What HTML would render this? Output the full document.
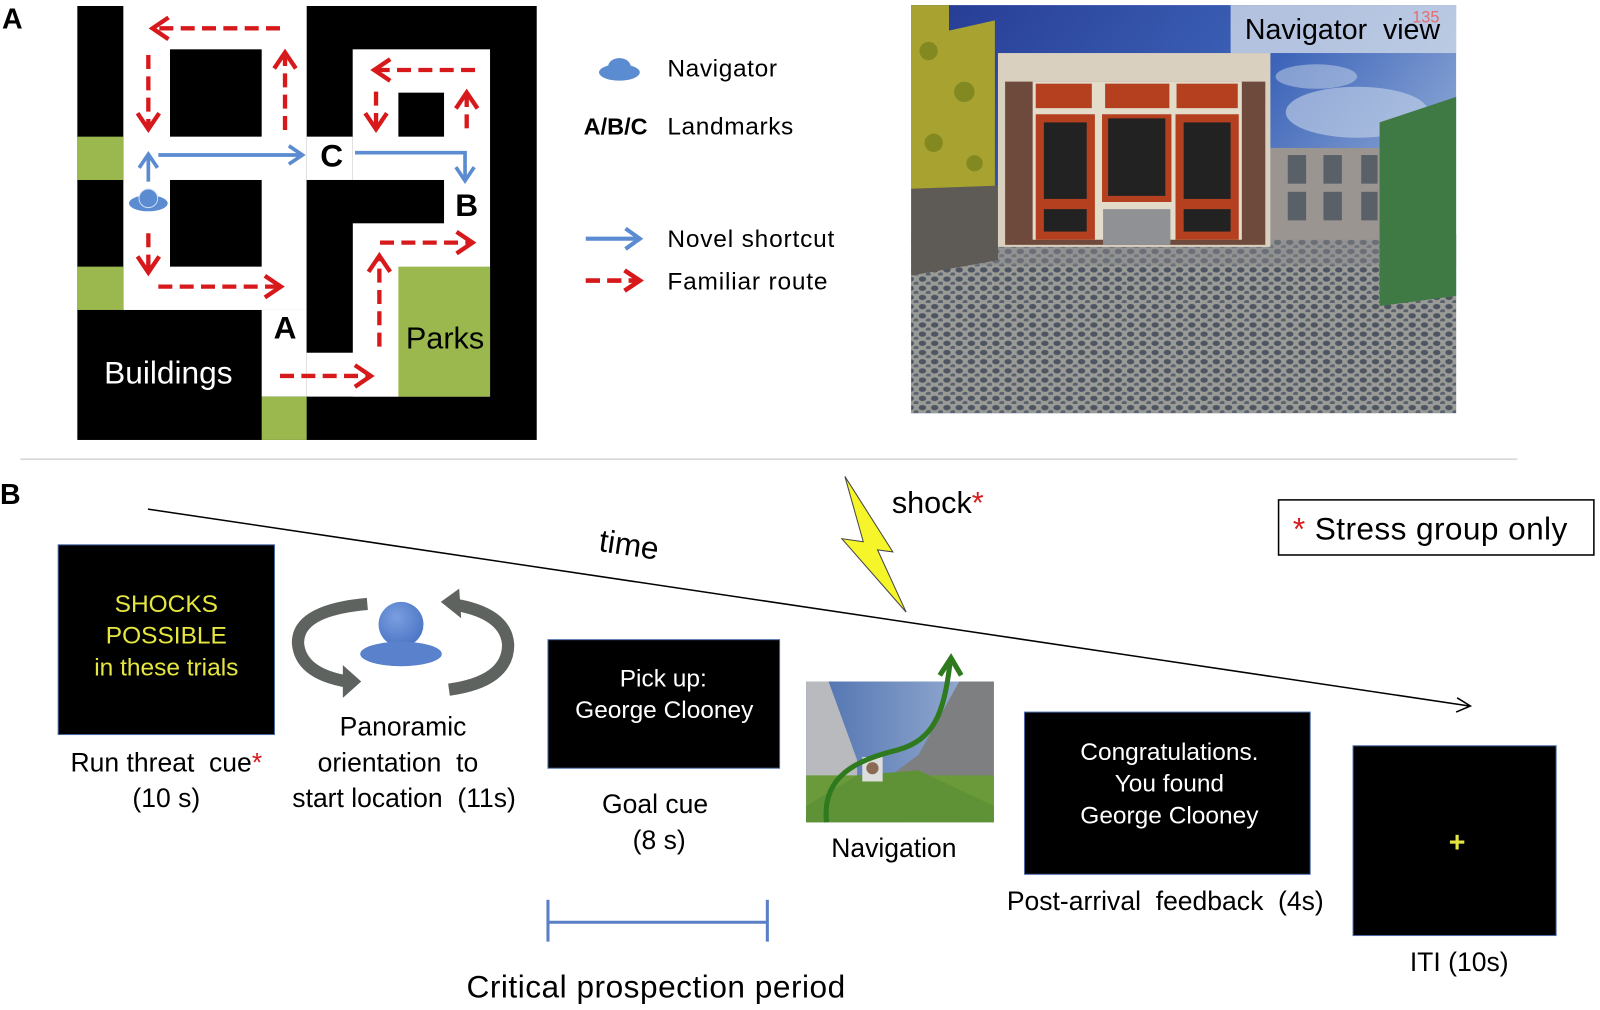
<!DOCTYPE html>
<html><head><meta charset="utf-8"><style>
html,body{margin:0;padding:0;background:#fff;}
svg{display:block;}
text{font-family:"Liberation Sans",Arial,sans-serif;white-space:pre;}
</style></head><body>
<svg width="1600" height="1010" viewBox="0 0 1568 990" preserveAspectRatio="none" xmlns="http://www.w3.org/2000/svg">
<defs>
<marker id="rh" markerWidth="6" markerHeight="6" refX="4" refY="3" orient="auto" markerUnits="strokeWidth"><path d="M0.5,0.5 L4.2,3 L0.5,5.5" fill="none" stroke="#d7191c" stroke-width="1"/></marker>
<marker id="bh" markerWidth="6" markerHeight="6" refX="4" refY="3" orient="auto" markerUnits="strokeWidth"><path d="M0.5,0.5 L4.2,3 L0.5,5.5" fill="none" stroke="#5b8bd0" stroke-width="1"/></marker>
<linearGradient id="sky" x1="0" y1="0" x2="1" y2="0.6"><stop offset="0" stop-color="#263a92"/><stop offset="0.55" stop-color="#3c63b8"/><stop offset="1" stop-color="#a8bfe0"/></linearGradient>
<pattern id="stones" width="12" height="9" patternUnits="userSpaceOnUse"><rect width="12" height="9" fill="#9a9a96"/><ellipse cx="4" cy="3.5" rx="3.6" ry="2.6" fill="#4d5562"/><ellipse cx="10" cy="8" rx="2.8" ry="2" fill="#5a626e"/></pattern>
<linearGradient id="nsky" x1="0" y1="0" x2="1" y2="0"><stop offset="0" stop-color="#4c6fae"/><stop offset="1" stop-color="#9fb4d6"/></linearGradient>
<radialGradient id="bl" cx="0.4" cy="0.35" r="0.7"><stop offset="0" stop-color="#7a9ee0"/><stop offset="1" stop-color="#4a74c4"/></radialGradient>
</defs>

<text x="2" y="28" font-size="28" font-weight="bold">A</text>

<g transform="translate(68.6,0) scale(0.3267)">
<rect x="22" y="18" width="1378" height="1302" fill="#000"/>
<g fill="#fff">
<rect x="160" y="18" width="550" height="912"/>
<rect x="575" y="930" width="135" height="260"/>
<rect x="710" y="1058" width="275" height="132"/>
<rect x="848" y="148" width="412" height="1042"/>
<rect x="710" y="410" width="138" height="130"/>
</g>
<g fill="#000">
<rect x="300" y="148" width="275" height="262"/>
<rect x="300" y="540" width="275" height="260"/>
<rect x="985" y="278" width="137" height="132"/>
<rect x="710" y="540" width="412" height="130"/>
<rect x="710" y="670" width="138" height="388"/>
</g>
<g fill="#9bb84f">
<rect x="22" y="410" width="138" height="130"/>
<rect x="22" y="800" width="138" height="130"/>
<rect x="985" y="800" width="275" height="390"/>
<rect x="575" y="1190" width="135" height="130"/>
</g>
<g stroke="#d7191c" stroke-width="13" fill="none" stroke-dasharray="42,22" marker-end="url(#rh)">
<path d="M630,85 L250,85"/>
<path d="M235,165 L235,385"/>
<path d="M645,390 L645,160"/>
<path d="M1215,210 L915,210"/>
<path d="M918,275 L918,385"/>
<path d="M1190,385 L1190,280"/>
<path d="M235,700 L235,815"/>
<path d="M265,860 L630,860"/>
<path d="M630,1128 L900,1128"/>
<path d="M928,1040 L928,770"/>
<path d="M930,728 L1205,728"/>
</g>
<g stroke="#5b8bd0" stroke-width="11" fill="none" marker-end="url(#bh)">
<path d="M235,545 L235,465"/>
<path d="M265,465 L695,465"/>
<path d="M855,458 L1185,458 L1185,540"/>
</g>
<ellipse cx="235" cy="610" rx="58" ry="24" fill="#5b8bd0"/>
<circle cx="235" cy="595" r="28" fill="#5b8bd0" stroke="#cfe0f5" stroke-width="3"/>
<text x="785" y="500" font-size="95" font-weight="bold" text-anchor="middle">C</text>
<text x="1190" y="648" font-size="95" font-weight="bold" text-anchor="middle">B</text>
<text x="645" y="1015" font-size="95" font-weight="bold" text-anchor="middle">A</text>
<text x="295" y="1150" font-size="95" fill="#fff" text-anchor="middle">Buildings</text>
<text x="1125" y="1045" font-size="92" fill="#000" text-anchor="middle">Parks</text>
</g>

<ellipse cx="607" cy="71" rx="20" ry="8" fill="#5b8bd0"/>
<ellipse cx="607" cy="65" rx="11" ry="8" fill="#5b8bd0"/>
<text x="654" y="75" font-size="24" letter-spacing="0.6">Navigator</text>
<text x="572" y="132" font-size="23" font-weight="bold">A/B/C</text>
<text x="654" y="132" font-size="24" letter-spacing="0.6">Landmarks</text>
<path d="M574,234 L624,234" stroke="#5b8bd0" stroke-width="4"/>
<path d="M613,224 L627,234 L613,244" stroke="#5b8bd0" stroke-width="4" fill="none"/>
<text x="654" y="242" font-size="24" letter-spacing="0.8">Novel shortcut</text>
<path d="M574,275 L624,275" stroke="#d7191c" stroke-width="4.5" stroke-dasharray="14,7"/>
<path d="M612,265 L627,275 L612,285" stroke="#d7191c" stroke-width="4.5" fill="none"/>
<text x="654" y="284" font-size="24" letter-spacing="0.8">Familiar route</text>

<!-- PHOTO -->
<rect x="893" y="5" width="534" height="400" fill="url(#sky)"/>
<ellipse cx="1330" cy="110" rx="70" ry="25" fill="#c8d6ea" opacity="0.6"/>
<ellipse cx="1290" cy="75" rx="40" ry="12" fill="#c8d6ea" opacity="0.5"/>
<rect x="893" y="230" width="534" height="175" fill="url(#stones)"/>
<rect x="893" y="230" width="534" height="30" fill="#888a8c" opacity="0.5"/>
<polygon points="893,5 930,5 930,30 975,20 975,190 893,190" fill="#a8a230"/>
<g fill="#6b7a18" opacity="0.6"><circle cx="910" cy="50" r="9"/><circle cx="945" cy="90" r="10"/><circle cx="915" cy="140" r="9"/><circle cx="955" cy="160" r="8"/></g>
<polygon points="893,185 978,182 978,255 893,270" fill="#5e5a55"/>
<rect x="1245" y="145" width="110" height="90" fill="#9a9590"/>
<g fill="#5a6068"><rect x="1262" y="152" width="18" height="28"/><rect x="1297" y="152" width="18" height="28"/><rect x="1334" y="152" width="16" height="28"/><rect x="1262" y="188" width="18" height="28"/><rect x="1297" y="188" width="18" height="28"/><rect x="1334" y="188" width="16" height="28"/></g>
<polygon points="1352,120 1427,95 1427,290 1352,300" fill="#3f7a45"/>
<rect x="978" y="52" width="267" height="190" fill="#d9d0bf"/>
<rect x="985" y="80" width="255" height="160" fill="#6e4a3c"/>
<rect x="1012" y="80" width="205" height="155" fill="#e3dccb"/>
<g fill="#b4401f"><rect x="1015" y="82" width="55" height="24"/><rect x="1083" y="82" width="63" height="24"/><rect x="1153" y="82" width="60" height="24"/>
<rect x="1015" y="112" width="58" height="123"/><rect x="1080" y="112" width="68" height="86"/><rect x="1152" y="112" width="62" height="123"/></g>
<g fill="#222"><rect x="1023" y="120" width="42" height="75"/><rect x="1086" y="116" width="56" height="76"/><rect x="1160" y="120" width="46" height="75"/><rect x="1023" y="205" width="42" height="22"/><rect x="1160" y="205" width="46" height="22"/></g>
<rect x="1081" y="205" width="66" height="35" fill="#8f9194"/>
<rect x="1206" y="5" width="221" height="47" fill="#c8d3e6" opacity="0.85"/>
<text x="1220" y="38" font-size="28">Navigator  view</text>
<text x="1384" y="22" font-size="16" fill="#e07070" font-family="Liberation Serif">135</text>

<line x1="20" y1="450" x2="1487" y2="450" stroke="#ccc" stroke-width="1.2"/>

<text x="0" y="494" font-size="28" font-weight="bold">B</text>
<line x1="145" y1="499" x2="1440" y2="692" stroke="#000" stroke-width="1.5"/>
<path d="M1428,684 L1441,692 L1427,698" fill="none" stroke="#000" stroke-width="1.5"/>
<text x="586" y="540" font-size="31" transform="rotate(8.5 586 540)">time</text>

<polygon points="828,467 875,541 860,539 888,600 825,528 846,531" fill="#f5f52a" stroke="#444" stroke-width="1"/>
<text x="874" y="503" font-size="30">shock<tspan fill="#d7191c">*</tspan></text>

<rect x="1253" y="490" width="309" height="54" fill="#fff" stroke="#000" stroke-width="1.5"/>
<text x="1267" y="529" font-size="31" letter-spacing="0.4"><tspan fill="#d7191c">*</tspan> Stress group only</text>

<rect x="57" y="534" width="212" height="186" fill="#000" stroke="#4a6aa8" stroke-width="1"/>
<g fill="#e6e640" font-size="24" text-anchor="middle"><text x="163" y="600">SHOCKS</text><text x="163" y="631">POSSIBLE</text><text x="163" y="662">in these trials</text></g>
<text x="163" y="756" font-size="26" text-anchor="middle">Run threat  cue<tspan fill="#d7191c">*</tspan></text>
<text x="163" y="791" font-size="26" text-anchor="middle">(10 s)</text>

<path d="M360,592 Q292,598 292,630 Q294,660 340,668" fill="none" stroke="#5f635f" stroke-width="12"/>
<polygon points="336,652 354,668 336,684" fill="#5f635f"/>
<path d="M440,676 Q498,668 498,632 Q496,602 448,593" fill="none" stroke="#5f635f" stroke-width="12"/>
<polygon points="450,577 432,590 452,606" fill="#5f635f"/>
<circle cx="393" cy="612" r="22" fill="url(#bl)"/>
<ellipse cx="393" cy="641" rx="40" ry="12" fill="#5a82cc"/>
<g font-size="26" text-anchor="middle"><text x="395" y="721">Panoramic</text><text x="390" y="756">orientation  to</text><text x="396" y="791">start location  (11s)</text></g>

<rect x="537" y="627" width="227" height="126" fill="#000" stroke="#4a6aa8" stroke-width="1"/>
<g fill="#fff" font-size="24" text-anchor="middle"><text x="650" y="673">Pick up:</text><text x="651" y="704">George Clooney</text></g>
<g font-size="26" text-anchor="middle"><text x="642" y="797">Goal cue</text><text x="646" y="832">(8 s)</text></g>
<g stroke="#5b7fc7" stroke-width="3"><line x1="537" y1="882" x2="537" y2="923"/><line x1="752" y1="882" x2="752" y2="923"/><line x1="537" y1="904" x2="752" y2="904"/></g>
<text x="643" y="978" font-size="31" text-anchor="middle" letter-spacing="0.5">Critical prospection period</text>

<rect x="790" y="668" width="184" height="138" fill="url(#nsky)"/>
<polygon points="790,668 812,668 840,745 840,760 790,790" fill="#b8babd"/>
<polygon points="974,668 940,668 900,740 870,762 974,790" fill="#7d7f80"/>
<polygon points="790,760 974,760 974,806 790,806" fill="#6a9a3a"/>
<polygon points="790,790 840,760 900,755 974,790 974,806 790,806" fill="#5f9236"/>
<rect x="845" y="742" width="20" height="24" fill="#ddd"/><circle cx="855" cy="753" r="6" fill="#8a6a55"/>
<path d="M810,806 C805,760 840,745 880,735 C915,725 925,700 931,650" fill="none" stroke="#2f7a1e" stroke-width="5"/>
<path d="M921,662 L932,645 L942,662" fill="none" stroke="#2f7a1e" stroke-width="5"/>
<text x="876" y="840" font-size="26" text-anchor="middle">Navigation</text>

<rect x="1004" y="698" width="280" height="159" fill="#000" stroke="#4a6aa8" stroke-width="1"/>
<g fill="#fff" font-size="24" text-anchor="middle"><text x="1146" y="745">Congratulations.</text><text x="1146" y="776">You found</text><text x="1146" y="807">George Clooney</text></g>
<text x="1142" y="892" font-size="26" text-anchor="middle">Post-arrival  feedback  (4s)</text>

<rect x="1326" y="731" width="199" height="186" fill="#000" stroke="#4a6aa8" stroke-width="1"/>
<text x="1428" y="835" font-size="28" font-weight="bold" fill="#e6e640" text-anchor="middle">+</text>
<text x="1430" y="952" font-size="26" text-anchor="middle">ITI (10s)</text>
</svg>
</body></html>
